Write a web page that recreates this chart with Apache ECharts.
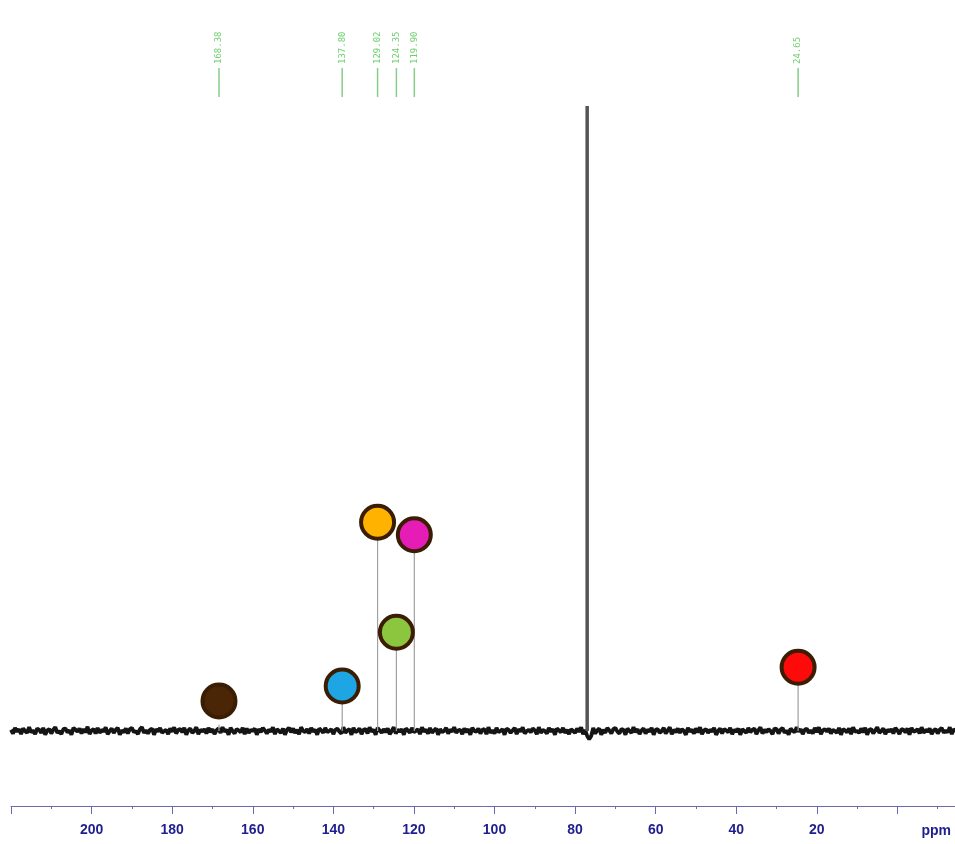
<!DOCTYPE html>
<html><head><meta charset="utf-8">
<script src="https://cdn.jsdelivr.net/npm/echarts@6/dist/echarts.min.js"></script>
<style>html,body{margin:0;padding:0;background:#fff}#c{width:955px;height:844px}</style>
</head><body><div id="c"></div>
<script>
// ---- data ----
const peakPpm    = [168.38, 137.80, 129.02, 124.35, 119.90, 77.00, 24.65];
const peakHeight = [1.0, 7.2, 33.4, 15.8, 31.4, 100.0, 10.2];
const labelPpm   = [168.38, 137.80, 129.02, 124.35, 119.90, 24.65];
const labelText  = ['168.38', '137.80', '129.02', '124.35', '119.90', '24.65'];
const circlePpm  = [168.38, 137.80, 129.02, 124.35, 119.90, 24.65];
const circleY    = [4.8, 7.2, 33.4, 15.8, 31.4, 10.2];
const circleFill = ['#4a2606', '#1ea6e4', '#ffb300', '#8cc63f', '#e61cb6', '#ff0a0a'];
const tickLabels = [200, 180, 160, 140, 120, 100, 80, 60, 40, 20];
const noiseStart = 220;  // ppm of first noise sample
const noiseStep  = 0.5;  // ppm between samples
const noise = [
0.2,-0.4,0.5,-0.1,0.3,-0.5,0.4,0.0,-0.3,0.6,-0.2,0.1,-0.5,0.4,0.2,-0.3,0.5,-0.6,0.1,0.3,
-0.4,0.2,0.6,-0.3,0.0,-0.5,0.3,0.4,-0.2,0.1,-0.6,0.5,0.2,-0.1,0.4,-0.4,0.3,-0.2,0.7,-0.5,
0.1,0.3,-0.4,0.5,-0.3,0.2,-0.1,0.6,-0.5,0.0,0.4,-0.3,0.2,0.5,-0.6,0.1,-0.2,0.4,-0.4,0.3,
0.5,-0.2,0.0,-0.5,0.3,0.6,-0.3,0.1,-0.4,0.2,0.4,-0.6,0.3,-0.1,0.5,-0.3,0.0,0.2,-0.5,0.4,
-0.1,0.6,-0.4,0.2,0.3,-0.2,0.5,-0.6,0.1,0.4,-0.3,0.0,0.6,-0.5,0.2,-0.1,0.3,-0.4,0.5,-0.2,
0.3,-0.5,0.1,0.4,-0.3,0.6,-0.1,0.2,-0.6,0.5,0.0,-0.4,0.3,0.1,-0.2,0.5,-0.5,0.4,-0.3,0.2,
0.0,0.4,-0.6,0.3,-0.2,0.5,0.1,-0.4,0.2,-0.1,0.6,-0.5,0.3,0.0,-0.3,0.4,-0.6,0.2,0.5,-0.2,
0.4,-0.3,0.2,-0.5,0.6,0.0,-0.2,0.3,-0.4,0.5,-0.1,0.2,-0.6,0.4,0.1,-0.3,0.5,-0.2,0.0,0.3,
-0.5,0.2,0.4,-0.1,-0.4,0.6,-0.3,0.1,0.3,-0.6,0.5,-0.2,0.0,0.4,-0.5,0.2,0.3,-0.4,0.6,-0.1,
0.2,-0.6,0.5,0.1,-0.3,0.3,-0.2,0.4,-0.5,0.0,0.6,-0.4,0.2,-0.1,0.3,-0.6,0.4,0.1,-0.3,0.5,
-0.2,0.0,0.3,-0.5,0.6,-0.1,0.2,-0.4,0.5,-0.3,0.1,0.4,-0.6,0.3,-0.2,0.0,0.5,-0.4,0.2,-0.1,
0.6,-0.3,0.1,0.2,-0.5,0.4,-0.2,0.3,-0.6,0.5,0.0,-0.1,0.4,-0.4,0.2,0.3,-0.5,0.6,-0.3,0.1,
-0.4,0.5,-0.2,0.0,0.3,-0.6,0.4,0.2,-0.3,0.1,0.5,-0.5,0.3,-0.1,0.6,-0.4,0.0,0.2,-0.2,0.4,
0.1,-0.5,0.6,-0.3,0.2,0.0,-0.4,0.5,-0.1,0.3,-0.6,0.4,0.1,-0.2,0.5,-0.3,0.2,-0.5,0.3,0.0,
-0.3,0.4,-0.1,0.6,-0.5,0.2,-0.8,-1.3,-0.8,0.5,-0.4,0.1,0.4,-0.6,0.2,-0.3,0.5,0.1,-0.4,0.3,
0.5,-0.1,-0.4,0.3,0.2,-0.6,0.4,0.0,-0.3,0.6,-0.2,0.3,-0.5,0.1,0.4,-0.4,0.2,-0.1,0.5,-0.6,
0.2,0.3,-0.3,0.0,0.5,-0.4,0.1,0.6,-0.5,0.2,-0.2,0.4,-0.3,0.3,0.0,-0.6,0.5,-0.1,0.2,-0.4,
0.4,-0.2,0.6,-0.5,0.1,0.3,-0.3,0.2,-0.1,0.5,-0.6,0.0,0.4,-0.4,0.3,0.1,-0.2,0.5,-0.5,0.2,
-0.1,0.4,-0.6,0.3,0.0,-0.3,0.5,-0.2,0.2,0.4,-0.5,0.1,0.6,-0.4,0.2,-0.2,0.3,0.0,-0.5,0.4,
0.3,-0.4,0.2,0.5,-0.3,0.1,-0.6,0.4,0.0,-0.2,0.6,-0.1,0.3,-0.5,0.2,0.4,-0.3,0.1,-0.4,0.5,
-0.2,0.6,-0.5,0.1,0.3,-0.1,0.4,-0.4,0.2,0.0,-0.3,0.5,-0.6,0.3,0.1,-0.2,0.4,-0.5,0.6,-0.1,
0.0,-0.3,0.4,-0.2,0.5,-0.6,0.2,0.3,-0.4,0.1,0.6,-0.3,0.0,0.4,-0.5,0.2,-0.1,0.3,-0.4,0.5,
0.1,-0.5,0.3,0.2,-0.2,0.4,-0.6,0.5,-0.1,0.0,0.3,-0.4,0.6,-0.3,0.2,-0.1,0.4,-0.5,0.1,0.3,
-0.4,0.2,0.5,-0.3,0.1,-0.2,0.6,-0.5,0.3,0.0
];

// ---- build ----
const spectrum = noise.map((v, i) => [noiseStart - i * noiseStep, v]);
const stems = peakPpm.map((p, i) => [p, peakHeight[i]]);
const circles = circlePpm.map((p, i) => ({
  value: [p, circleY[i]],
  itemStyle: { color: circleFill[i] }
}));
const labels = labelPpm.map((p, i) => [p, labelText[i]]);

const chart = echarts.init(document.getElementById('c'), null, { renderer: 'canvas' });
chart.setOption({
  backgroundColor: '#ffffff',
  animation: false,
  grid: [
    { left: 11, right: -23, top: 106, bottom: 38, outerBoundsMode: 'none', containLabel: false },
    { left: 11, right: -23, top: 68, height: 29, outerBoundsMode: 'none', containLabel: false }
  ],
  xAxis: [
    {
      type: 'value', gridIndex: 0, inverse: true, min: -20, max: 220, interval: 20,
      splitLine: { show: false },
      axisLine: { show: true, onZero: false, lineStyle: { color: '#6b6ba8', width: 1 } },
      axisTick: { show: true, length: 8, lineStyle: { color: '#6b6ba8' } },
      minorTick: { show: true, splitNumber: 2, length: 3, lineStyle: { color: '#6b6ba8' } },
      axisLabel: {
        margin: 17, color: '#1e1e90', fontSize: 14, fontWeight: 'bold',
        fontFamily: 'Liberation Sans, Arial, sans-serif',
        formatter: v => tickLabels.indexOf(v) >= 0 ? String(v) : ''
      }
    },
    { type: 'value', gridIndex: 1, inverse: true, min: -20, max: 220, show: false }
  ],
  yAxis: [
    { type: 'value', gridIndex: 0, min: -12, max: 100, show: false, splitLine: { show: false } },
    { type: 'value', gridIndex: 1, min: 0, max: 1, show: false, splitLine: { show: false } }
  ],
  graphic: [{
    type: 'text', right: 4, top: 824,
    style: { text: 'ppm', fill: '#1e1e90', font: 'bold 14px Liberation Sans, Arial, sans-serif' }
  }],
  series: [
    {
      type: 'line', xAxisIndex: 0, yAxisIndex: 0, data: spectrum, showSymbol: false,
      lineStyle: { color: '#151515', width: 3.8 }, z: 2
    },
    {
      type: 'custom', xAxisIndex: 0, yAxisIndex: 0, data: stems, z: 3,
      renderItem: function (params, api) {
        const p0 = api.coord([api.value(0), 0]);
        const p1 = api.coord([api.value(0), api.value(1)]);
        const big = api.value(1) > 50;
        return {
          type: 'line',
          shape: { x1: p0[0], y1: p0[1], x2: p1[0], y2: p1[1] },
          style: { stroke: big ? '#555' : '#a0a0a0', lineWidth: big ? 3.5 : 1.2 }
        };
      }
    },
    {
      type: 'scatter', xAxisIndex: 0, yAxisIndex: 0, data: circles, symbol: 'circle',
      symbolSize: 33, z: 5,
      itemStyle: { borderColor: '#3a1d02', borderWidth: 4, opacity: 1 }
    },
    {
      type: 'custom', xAxisIndex: 1, yAxisIndex: 1, data: labels, z: 4,
      renderItem: function (params, api) {
        const x = api.value(0);
        const pb = api.coord([x, 0]);
        const pt = api.coord([x, 1]);
        return {
          type: 'group',
          children: [
            { type: 'line', shape: { x1: pb[0], y1: pb[1], x2: pt[0], y2: pt[1] },
              style: { stroke: '#88cc88', lineWidth: 1.5 } },
            { type: 'text', x: pt[0], y: pt[1] - 4, rotation: Math.PI / 2,
              style: { text: labelText[params.dataIndex], fill: '#6fcf6f',
                       font: '9px DejaVu Sans Mono, monospace', align: 'left', verticalAlign: 'middle' } }
          ]
        };
      }
    }
  ]
});
</script></body></html>
